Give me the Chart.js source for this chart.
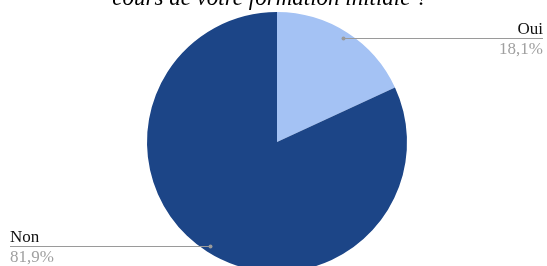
<!DOCTYPE html>
<html lang="fr">
<head>
<meta charset="UTF-8">
<title>Formation initiale</title>
<script src="https://cdn.jsdelivr.net/npm/chart.js"></script>
<style>
  html, body { margin: 0; padding: 0; background: #fff; overflow: hidden; }
  .wrap { position: relative; width: 547px; height: 300px; }
</style>
</head>
<body>
<div class="wrap"><canvas id="pie"></canvas></div>
<script>
// Données
const labels = ['Oui', 'Non'];
const valeurs = [18.1, 81.9];
const couleurs = ['#a4c2f4', '#1c4587'];
const titre = 'cours de votre formation initiale ?';

// étiquettes avec trait de rappel
const etiquettes = {
  id: 'etiquettes',
  afterDraw(chart) {
    const ctx = chart.ctx;
    const arcs = chart.getDatasetMeta(0).data;
    ctx.save();
    // titre (seule la fin est visible)
    ctx.font = 'italic 23px "Liberation Serif", serif';
    ctx.fillStyle = '#000';
    ctx.textAlign = 'center';
    ctx.textBaseline = 'alphabetic';
    ctx.fillText(titre, 270, 5);

    arcs.forEach((arc, i) => {
      const p = arc.getProps(['x', 'y', 'startAngle', 'endAngle', 'outerRadius'], true);
      const mid = (p.startAngle + p.endAngle) / 2;
      const r = p.outerRadius * 0.95;
      const px = p.x + Math.cos(mid) * r;
      const py = Math.round(p.y + Math.sin(mid) * r) + 0.5;
      const droite = Math.cos(mid) >= 0;
      const bout = droite ? 543 : 10;

      ctx.strokeStyle = '#9a9a9a';
      ctx.lineWidth = 1;
      ctx.beginPath();
      ctx.moveTo(px, py);
      ctx.lineTo(bout, py);
      ctx.stroke();
      ctx.fillStyle = '#9a9a9a';
      ctx.beginPath();
      ctx.arc(px, py, 2, 0, Math.PI * 2);
      ctx.fill();

      ctx.font = '17px "Liberation Serif", serif';
      ctx.textAlign = droite ? 'right' : 'left';
      ctx.fillStyle = '#111';
      ctx.fillText(labels[i], bout, py - 5);
      ctx.fillStyle = '#a0a0a0';
      ctx.fillText(valeurs[i].toFixed(1).replace('.', ',') + '%', bout, py + 15);
    });
    ctx.restore();
  }
};

new Chart(document.getElementById('pie'), {
  type: 'pie',
  data: {
    labels: labels,
    datasets: [{
      data: valeurs,
      backgroundColor: couleurs,
      borderWidth: 0
    }]
  },
  options: {
    responsive: true,
    maintainAspectRatio: false,
    animation: false,
    layout: { padding: { top: 12, bottom: 28, left: 147, right: 140 } },
    plugins: {
      legend: { display: false },
      tooltip: { enabled: false }
    }
  },
  plugins: [etiquettes]
});
</script>
</body>
</html>
